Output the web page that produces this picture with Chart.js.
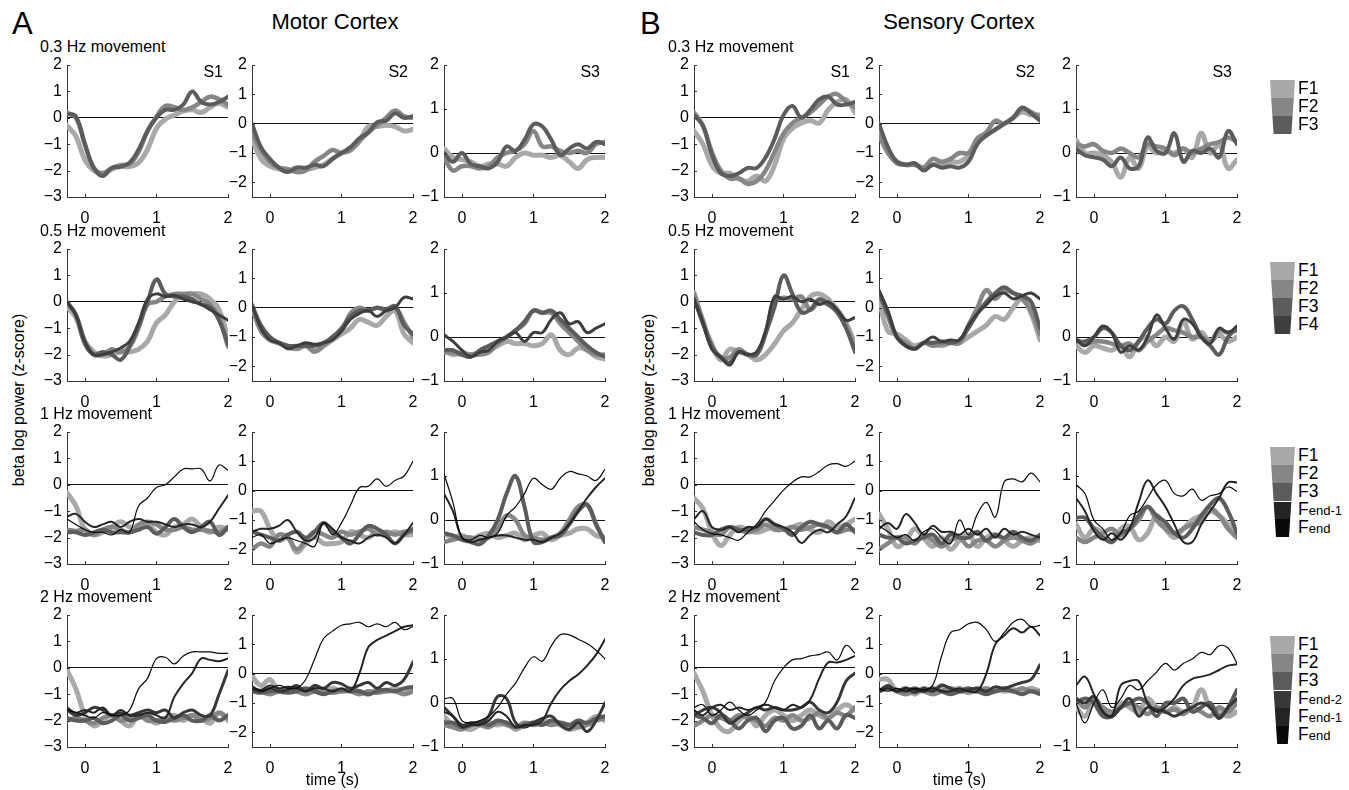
<!DOCTYPE html>
<html>
<head>
<meta charset="utf-8">
<script src="https://cdn.jsdelivr.net/npm/chart.js@4.4.1/dist/chart.umd.min.js"></script>
<style>
  body { margin: 0; background: #fff; }
  #fig { position: relative; width: 1349px; height: 790px; overflow: hidden;
         font-family: 'Liberation Sans', Arial, sans-serif; color: #000; }
  #fig canvas { position: absolute; }
  .txt { position: absolute; white-space: nowrap; line-height: 1; }
</style>
</head>
<body>
<div id="fig"></div>
<script>
// time axis shared by every panel (s)
const timeS = [-0.25, -0.125, 0, 0.125, 0.25, 0.375, 0.5, 0.625, 0.75, 0.875, 1, 1.125, 1.25, 1.375, 1.5, 1.625, 1.75, 1.875, 2];

const panelLetters = ['A', 'B'];
const regions = ['Motor Cortex', 'Sensory Cortex'];
const movements = ['0.3 Hz movement', '0.5 Hz movement', '1 Hz movement', '2 Hz movement'];
const subjects = ['S1', 'S2', 'S3'];
const rowSeries = [
  ['F1', 'F2', 'F3'],
  ['F1', 'F2', 'F3', 'F4'],
  ['F1', 'F2', 'F3', 'Fend-1', 'Fend'],
  ['F1', 'F2', 'F3', 'Fend-2', 'Fend-1', 'Fend']
];
const yMinBySubject = [-3, -2.5, -1];
const yMax = 2;
const yTicksBySubject = [[-3, -2, -1, 0, 1, 2], [-2, -1, 0, 1, 2], [-1, 0, 1, 2]];
const xTicks = [0, 1, 2];

// ---- Motor cortex, 0.3 Hz
const motor03S1 = [
  [-0.3, -0.7, -1.6, -2.0, -2.1, -1.95, -1.85, -1.85, -1.7, -1.2, -0.4, -0.05, 0.1, 0.25, 0.3, 0.2, 0.4, 0.55, 0.4],
  [0.2, 0.0, -1.0, -1.9, -2.1, -1.9, -1.8, -1.75, -1.3, -0.5, 0.05, 0.45, 0.4, 0.3, 0.4, 0.6, 0.8, 0.7, 0.5],
  [0.15, 0.05, -1.0, -1.9, -2.2, -1.9, -1.85, -1.7, -1.2, -0.5, 0.0, 0.3, 0.3, 0.5, 1.0, 0.6, 0.5, 0.6, 0.8]
];
const motor03S2 = [
  [-0.5, -1.2, -1.45, -1.55, -1.6, -1.5, -1.55, -1.5, -1.4, -1.2, -1.0, -0.9, -0.6, -0.1, -0.1, -0.05, -0.1, -0.25, -0.2],
  [-0.3, -0.9, -1.3, -1.5, -1.55, -1.65, -1.6, -1.3, -1.1, -0.9, -1.0, -0.9, -0.6, -0.3, -0.05, 0.2, 0.45, 0.25, 0.2],
  [0.0, -0.8, -1.2, -1.5, -1.65, -1.5, -1.5, -1.4, -1.45, -1.2, -1.0, -0.8, -0.5, -0.3, 0.05, 0.1, 0.35, 0.2, 0.25]
];
const motor03S3 = [
  [0.1, -0.1, -0.15, -0.2, -0.3, -0.25, -0.25, -0.3, -0.1, 0.0, -0.05, -0.05, -0.1, -0.05, -0.2, -0.35, -0.15, -0.1, -0.1],
  [-0.1, -0.4, -0.3, -0.3, -0.35, -0.3, -0.1, 0.0, 0.05, 0.2, 0.5, 0.15, 0.15, 0.05, 0.0, 0.05, 0.0, 0.2, 0.25],
  [0.0, -0.2, 0.0, -0.25, -0.3, -0.35, -0.2, 0.15, 0.05, 0.3, 0.65, 0.6, 0.3, -0.05, 0.1, 0.2, 0.1, 0.25, 0.2]
];

// ---- Motor cortex, 0.5 Hz
const motor05S1 = [
  [-0.2, -0.6, -1.5, -1.9, -2.05, -2.0, -1.9, -1.9, -1.8, -1.5, -0.8, -0.5, 0.0, 0.25, 0.3, 0.3, 0.1, -0.3, -1.4],
  [-0.05, -0.5, -1.5, -2.0, -2.0, -1.8, -1.9, -1.7, -1.0, -0.1, 0.0, 0.2, 0.3, 0.3, 0.3, 0.1, -0.1, -0.6, -1.7],
  [0.0, -0.5, -1.6, -2.0, -1.9, -2.0, -2.2, -1.7, -0.9, 0.0, 0.85, 0.3, 0.2, 0.2, 0.1, -0.1, -0.2, -0.7, -1.6],
  [0.0, -0.5, -1.5, -2.0, -2.0, -1.9, -1.75, -1.5, -0.8, 0.1, 0.3, 0.2, 0.25, 0.1, 0.0, -0.1, -0.3, -0.5, -0.7]
];
const motor05S2 = [
  [0.0, -0.7, -1.1, -1.2, -1.35, -1.4, -1.3, -1.45, -1.3, -1.1, -0.9, -0.7, -0.4, -0.5, -0.6, -0.3, -0.1, -0.9, -1.2],
  [0.0, -0.8, -1.1, -1.2, -1.3, -1.4, -1.3, -1.5, -1.3, -1.0, -0.8, -0.2, 0.0, -0.1, 0.0, -0.1, 0.0, -0.5, -1.0],
  [0.1, -0.6, -1.0, -1.2, -1.3, -1.3, -1.3, -1.3, -1.2, -1.0, -0.7, -0.3, -0.1, -0.1, 0.0, -0.05, 0.05, -0.6, -0.9],
  [0.1, -0.7, -1.1, -1.2, -1.4, -1.3, -1.2, -1.25, -1.2, -1.1, -0.8, -0.4, -0.2, -0.1, -0.3, -0.1, 0.0, 0.35, 0.3]
];
const motor05S3 = [
  [-0.3, -0.4, -0.35, -0.4, -0.35, -0.3, -0.2, -0.1, -0.15, -0.15, -0.2, -0.15, 0.05, -0.3, -0.4, -0.25, -0.3, -0.45, -0.5],
  [-0.35, -0.35, -0.4, -0.4, -0.4, -0.35, -0.15, 0.0, 0.15, 0.3, 0.6, 0.55, 0.55, 0.3, 0.1, -0.1, -0.3, -0.4, -0.4],
  [-0.3, -0.3, -0.4, -0.45, -0.3, -0.2, -0.1, 0.0, 0.15, 0.35, 0.6, 0.55, 0.6, 0.4, 0.2, 0.0, -0.2, -0.35, -0.45],
  [0.05, -0.1, -0.3, -0.45, -0.35, -0.3, -0.1, 0.0, 0.1, -0.1, 0.1, 0.1, 0.4, 0.55, 0.3, 0.35, 0.1, 0.2, 0.3]
];

// ---- Motor cortex, 1 Hz
const motor1S1 = [
  [-0.3, -0.8, -1.7, -1.9, -1.8, -1.6, -1.4, -1.6, -1.7, -1.5, -1.8, -1.9, -1.6, -1.5, -1.3, -1.6, -1.8, -1.6, -1.7],
  [-1.7, -1.75, -1.7, -1.9, -1.7, -1.6, -1.7, -1.8, -1.5, -1.4, -1.5, -1.7, -1.7, -1.6, -1.7, -1.7, -1.75, -1.8, -1.6],
  [-1.8, -1.8, -1.9, -1.8, -1.7, -1.8, -1.8, -1.8, -1.7, -1.6, -1.85, -1.6, -1.3, -1.6, -1.8, -1.6, -1.4, -1.9, -1.6],
  [-1.2, -1.1, -1.4, -1.6, -1.5, -1.4, -1.6, -1.4, -1.3, -1.4, -1.4, -1.5, -1.6, -1.5, -1.5, -1.6, -1.4, -0.9, -0.4],
  [-1.3, -1.5, -1.7, -1.8, -1.8, -1.9, -1.7, -1.8, -0.8, -0.5, -0.1, 0.0, 0.3, 0.6, 0.6, 0.6, 0.15, 0.75, 0.55]
];
const motor1S2 = [
  [-0.7, -0.7, -1.3, -1.7, -1.6, -2.1, -1.8, -1.6, -1.8, -1.8, -1.75, -1.4, -1.5, -1.6, -1.4, -1.5, -1.4, -1.5, -1.5],
  [-2.0, -1.8, -1.9, -1.5, -1.6, -2.0, -1.7, -1.4, -1.5, -1.6, -1.4, -1.5, -1.4, -1.3, -1.5, -1.4, -1.5, -1.4, -1.4],
  [-1.4, -1.5, -1.6, -1.7, -1.5, -1.4, -1.6, -1.4, -1.1, -1.4, -1.6, -1.8, -1.5, -1.2, -1.3, -1.5, -1.8, -1.5, -1.3],
  [-1.4, -1.3, -1.3, -1.2, -1.0, -1.4, -1.7, -1.6, -1.1, -1.3, -1.6, -1.7, -1.8, -1.6, -1.5, -1.6, -1.8, -1.5, -1.1],
  [-1.6, -1.5, -1.8, -1.7, -1.6, -1.7, -1.8, -1.9, -1.1, -1.5, -1.1, -0.5, 0.1, 0.15, 0.4, 0.15, 0.35, 0.5, 1.0]
];
const motor1S3 = [
  [-0.3, -0.4, -0.35, -0.45, -0.35, -0.3, -0.4, -0.35, -0.3, -0.45, -0.35, -0.3, -0.45, -0.35, -0.3, -0.2, -0.2, -0.35, -0.4],
  [-0.5, -0.45, -0.4, -0.4, -0.45, -0.4, -0.2, 0.1, 0.0, -0.35, -0.4, -0.45, -0.4, -0.3, 0.0, 0.3, 0.35, -0.1, -0.5],
  [-0.3, -0.35, -0.45, -0.5, -0.55, -0.35, 0.0, 0.6, 1.0, 0.3, -0.5, -0.5, -0.4, -0.35, -0.1, 0.2, 0.35, -0.1, -0.5],
  [0.6, 0.2, -0.4, -0.5, -0.45, -0.4, -0.35, -0.35, -0.4, -0.45, -0.45, -0.5, -0.4, -0.3, -0.1, 0.2, 0.5, 0.75, 0.95],
  [1.05, 0.4, -0.4, -0.45, -0.35, -0.4, -0.3, 0.1, 0.3, 0.6, 0.95, 0.8, 0.7, 0.95, 1.1, 1.05, 1.0, 0.9, 1.15]
];

// ---- Motor cortex, 2 Hz
const motor2S1 = [
  [-0.1, -0.8, -1.8, -2.2, -2.0, -1.8, -2.0, -2.2, -1.8, -1.9, -2.1, -1.9, -1.8, -2.0, -1.8, -1.9, -2.1, -1.7, -2.0],
  [-2.0, -1.9, -2.0, -2.1, -1.9, -1.8, -2.0, -1.9, -1.8, -2.0, -2.0, -1.9, -2.0, -1.9, -1.8, -2.0, -1.9, -1.7, -1.9],
  [-1.9, -2.0, -2.0, -1.9, -2.1, -2.0, -1.8, -2.0, -1.9, -1.8, -2.0, -2.05, -1.9, -1.8, -2.0, -2.0, -1.8, -2.0, -1.8],
  [-1.6, -1.8, -1.7, -1.5, -1.6, -1.8, -1.7, -1.8, -1.7, -1.6, -1.7, -1.6, -1.9, -1.7, -1.6, -1.8, -1.8, -1.0, -0.1],
  [-1.5, -1.7, -1.6, -1.7, -1.5, -1.8, -1.6, -1.8, -1.8, -1.7, -1.8, -1.9, -1.1, -0.6, -0.2, 0.35, 0.3, 0.25, 0.35],
  [-1.6, -1.7, -1.8, -1.9, -1.7, -1.8, -1.8, -1.6, -0.8, -0.4, 0.35, 0.4, 0.15, 0.45, 0.6, 0.6, 0.6, 0.55, 0.55]
];
const motor2S2 = [
  [-0.1, -0.4, -0.2, -0.6, -0.6, -0.5, -0.6, -0.5, -0.6, -0.5, -0.6, -0.55, -0.6, -0.7, -0.55, -0.6, -0.5, -0.6, -0.6],
  [-0.5, -0.6, -0.7, -0.6, -0.55, -0.6, -0.7, -0.6, -0.6, -0.65, -0.6, -0.6, -0.7, -0.6, -0.65, -0.6, -0.6, -0.7, -0.6],
  [-0.6, -0.65, -0.6, -0.6, -0.65, -0.6, -0.5, -0.6, -0.7, -0.6, -0.55, -0.6, -0.6, -0.7, -0.6, -0.55, -0.6, -0.5, -0.45],
  [-0.55, -0.6, -0.5, -0.6, -0.55, -0.4, -0.6, -0.4, -0.5, -0.3, -0.35, -0.5, -0.4, -0.3, -0.5, -0.3, -0.4, -0.2, 0.4],
  [-0.5, -0.55, -0.4, -0.5, -0.45, -0.5, -0.6, -0.5, -0.5, -0.6, -0.5, -0.6, 0.0, 0.9, 1.15, 1.3, 1.45, 1.6, 1.65],
  [-0.4, -0.6, -0.5, -0.4, -0.5, -0.5, -0.2, 0.5, 1.2, 1.45, 1.65, 1.7, 1.75, 1.6, 1.7, 1.6, 1.75, 1.5, 1.6]
];
const motor2S3 = [
  [-0.3, -0.5, -0.55, -0.6, -0.5, -0.45, -0.5, -0.45, -0.6, -0.5, -0.45, -0.4, -0.45, -0.5, -0.6, -0.55, -0.45, -0.3, -0.4],
  [-0.5, -0.55, -0.6, -0.5, -0.5, -0.55, -0.45, -0.5, -0.55, -0.45, -0.5, -0.45, -0.5, -0.45, -0.5, -0.55, -0.5, -0.4, -0.35],
  [-0.45, -0.45, -0.55, -0.5, -0.45, -0.5, -0.4, -0.45, -0.55, -0.5, -0.45, -0.5, -0.4, -0.45, -0.5, -0.4, -0.45, -0.35, -0.3],
  [-0.1, -0.3, -0.5, -0.45, -0.45, -0.3, 0.15, 0.1, -0.45, -0.55, -0.45, -0.35, -0.3, -0.5, -0.6, -0.45, -0.65, -0.4, 0.0],
  [-0.2, -0.3, -0.55, -0.5, -0.5, -0.4, -0.2, -0.3, -0.55, -0.5, -0.5, -0.4, 0.0, 0.3, 0.5, 0.65, 0.85, 1.1, 1.45],
  [0.1, 0.1, -0.4, -0.45, -0.4, -0.3, -0.1, 0.2, 0.45, 0.8, 1.05, 0.95, 1.3, 1.55, 1.55, 1.45, 1.35, 1.2, 1.0]
];

// ---- Sensory cortex, 0.3 Hz
const sensory03S1 = [
  [-0.5, -1.0, -1.8, -2.1, -2.1, -2.3, -2.4, -2.2, -2.4, -1.8, -0.8, -0.4, -0.2, -0.1, -0.2, 0.3, 0.6, 0.7, 0.2],
  [0.2, -0.3, -1.3, -2.0, -2.3, -2.3, -2.5, -2.4, -2.0, -1.3, -0.6, -0.2, 0.0, 0.2, 0.5, 0.8, 0.9, 0.6, 0.4],
  [0.1, -0.3, -1.4, -2.1, -2.2, -2.1, -1.9, -1.9, -1.5, -0.8, 0.1, 0.45, 0.0, 0.3, 0.7, 0.8, 0.5, 0.5, 0.6]
];
const sensory03S2 = [
  [-0.3, -0.9, -1.3, -1.4, -1.4, -1.5, -1.4, -1.4, -1.3, -1.3, -1.1, -0.6, -0.4, -0.2, 0.0, 0.2, 0.4, 0.3, 0.3],
  [-0.4, -1.0, -1.35, -1.4, -1.4, -1.5, -1.2, -1.3, -1.2, -1.0, -1.0, -0.5, -0.3, 0.1, 0.0, 0.2, 0.5, 0.4, 0.2],
  [0.0, -0.8, -1.3, -1.4, -1.35, -1.6, -1.4, -1.5, -1.45, -1.5, -1.3, -0.7, -0.4, -0.2, 0.0, 0.2, 0.55, 0.35, 0.1]
];
const sensory03S3 = [
  [0.3, 0.0, 0.0, -0.05, -0.2, -0.55, -0.1, -0.35, 0.15, 0.0, 0.05, 0.0, 0.1, -0.1, 0.45, 0.0, 0.2, -0.35, -0.15],
  [0.2, 0.15, 0.2, 0.05, 0.0, 0.1, 0.0, -0.1, 0.2, 0.15, 0.1, -0.05, 0.1, 0.0, 0.1, 0.2, 0.25, 0.35, 0.25],
  [0.1, -0.05, -0.1, -0.15, -0.3, -0.1, -0.35, -0.3, 0.35, 0.05, 0.0, 0.45, -0.2, 0.05, 0.0, 0.1, -0.1, 0.5, 0.2]
];

// ---- Sensory cortex, 0.5 Hz
const sensory05S1 = [
  [0.35, -0.8, -1.6, -2.2, -1.8, -1.9, -2.0, -2.2, -2.0, -1.6, -1.1, -0.8, -0.3, 0.2, 0.3, 0.1, -0.3, -0.8, -1.6],
  [0.3, -0.7, -1.7, -2.1, -2.1, -1.8, -2.0, -2.0, -1.2, 0.0, 0.15, 0.1, 0.2, -0.3, 0.0, -0.1, -0.3, -0.9, -1.8],
  [0.1, -0.8, -1.7, -2.1, -2.3, -1.9, -2.0, -2.0, -1.2, -0.2, 1.0, 0.3, -0.4, -0.3, 0.1, -0.1, -0.4, -1.0, -1.9],
  [0.1, -0.8, -1.8, -2.1, -2.4, -1.9, -2.0, -1.9, -1.1, 0.2, 0.1, 0.2, 0.0, 0.1, -0.1, 0.0, -0.3, -0.7, -0.6]
];
const sensory05S2 = [
  [0.3, -0.8, -0.9, -1.1, -1.3, -1.2, -1.2, -1.3, -1.2, -1.2, -1.0, -0.8, -0.6, -0.3, -0.4, 0.0, 0.3, -0.2, -1.1],
  [0.5, -0.3, -1.0, -1.2, -1.4, -1.2, -1.3, -1.25, -1.2, -1.2, -0.6, 0.0, 0.6, 0.3, 0.6, 0.5, 0.3, -0.1, -0.9],
  [0.5, -0.2, -1.0, -1.3, -1.4, -1.2, -1.2, -1.15, -1.2, -1.1, -0.7, -0.2, 0.2, 0.5, 0.7, 0.5, 0.4, 0.2, -0.7],
  [0.6, -0.1, -1.0, -1.3, -1.4, -1.2, -1.0, -1.15, -1.1, -1.1, -0.6, -0.2, 0.1, 0.4, 0.5, 0.3, 0.4, 0.5, 0.3]
];
const sensory05S3 = [
  [-0.2, -0.35, -0.2, -0.25, -0.3, -0.2, -0.45, -0.1, 0.0, -0.2, 0.0, -0.1, 0.35, -0.05, 0.1, -0.1, 0.05, -0.1, 0.0],
  [-0.05, -0.15, -0.1, -0.1, -0.15, -0.2, -0.15, -0.3, -0.1, 0.05, 0.2, 0.15, 0.1, 0.0, 0.0, -0.1, 0.15, 0.1, 0.15],
  [-0.1, -0.1, 0.0, 0.2, 0.1, -0.2, -0.3, -0.1, 0.2, 0.4, 0.3, 0.6, 0.7, 0.4, 0.0, -0.2, -0.4, 0.0, 0.2],
  [-0.05, -0.2, 0.0, 0.25, 0.1, -0.35, -0.2, -0.3, 0.0, 0.5, 0.2, -0.05, 0.4, 0.3, 0.0, -0.15, 0.2, 0.1, 0.25]
];

// ---- Sensory cortex, 1 Hz
const sensory1S1 = [
  [-0.5, -0.9, -1.8, -2.3, -1.9, -1.6, -1.7, -1.8, -1.7, -1.6, -1.7, -1.6, -1.5, -1.7, -1.8, -1.4, -1.6, -1.5, -1.3],
  [-1.6, -1.7, -1.8, -1.9, -1.6, -1.7, -1.8, -1.7, -1.5, -1.7, -1.7, -1.6, -1.7, -1.6, -1.5, -1.6, -1.8, -1.7, -1.7],
  [-1.8, -1.9, -1.9, -1.7, -1.6, -1.7, -1.7, -1.6, -1.3, -1.5, -1.65, -1.9, -1.6, -1.4, -1.5, -1.6, -1.8, -1.5, -1.8],
  [-1.3, -1.0, -1.6, -1.7, -1.6, -1.8, -1.6, -1.6, -1.3, -1.5, -1.6, -1.8, -2.2, -1.9, -1.7, -1.8, -1.5, -1.2, -0.5],
  [-1.4, -1.7, -1.85, -1.9, -2.0, -2.1, -1.8, -1.5, -1.0, -0.6, -0.2, 0.1, 0.3, 0.3, 0.5, 0.75, 0.8, 0.7, 0.9]
];
const sensory1S2 = [
  [-0.8, -1.3, -1.9, -1.7, -1.3, -1.6, -1.9, -1.6, -2.0, -1.7, -1.5, -1.9, -1.6, -1.5, -1.7, -1.9, -1.7, -1.6, -1.7],
  [-2.0, -1.8, -1.6, -1.6, -1.8, -1.5, -1.7, -1.9, -1.7, -1.6, -1.9, -1.7, -1.7, -1.9, -1.7, -1.6, -1.7, -1.8, -1.6],
  [-1.5, -1.6, -1.6, -1.8, -1.7, -1.6, -1.5, -1.8, -1.5, -1.6, -1.6, -1.4, -1.7, -1.5, -1.6, -1.4, -1.6, -1.7, -1.5],
  [-1.3, -1.1, -1.3, -0.8, -1.1, -1.5, -1.2, -1.4, -1.4, -1.5, -1.3, -1.5, -1.3, -1.6, -1.3, -1.5, -1.4, -1.5, -1.6],
  [-1.2, -1.4, -1.6, -1.5, -1.7, -1.4, -1.3, -1.6, -1.8, -1.0, -1.5, -0.8, -0.4, -0.9, 0.3, 0.4, 0.3, 0.6, 0.3]
];
const sensory1S3 = [
  [-0.1, -0.4, -0.2, -0.3, -0.5, -0.2, -0.15, -0.45, -0.3, 0.1, -0.2, -0.4, -0.2, 0.0, 0.1, 0.2, 0.1, -0.1, -0.3],
  [-0.4, -0.5, -0.4, -0.3, -0.2, -0.35, -0.2, 0.0, 0.3, 0.0, -0.2, -0.3, -0.2, -0.1, -0.05, 0.25, 0.1, -0.2, -0.4],
  [0.05, 0.05, -0.2, -0.4, -0.5, -0.3, -0.2, 0.1, 0.3, 0.1, -0.05, -0.3, -0.4, -0.2, 0.1, 0.35, 0.5, 0.2, -0.3],
  [0.5, 0.2, -0.25, -0.45, -0.3, -0.45, -0.2, 0.4, 0.9, 0.6, 0.3, -0.1, -0.5, -0.5, -0.1, 0.2, 0.5, 0.85, 0.85],
  [0.8, 0.6, 0.0, -0.2, -0.45, -0.3, 0.1, 0.2, 0.5, 0.8, 0.9, 0.6, 0.55, 0.7, 0.45, 0.55, 0.6, 0.75, 0.65]
];

// ---- Sensory cortex, 2 Hz
const sensory2S1 = [
  [-0.2, -0.9, -1.8, -2.3, -2.4, -2.0, -1.8, -2.2, -1.8, -1.6, -1.8, -2.0, -1.8, -1.6, -1.8, -1.9, -1.6, -1.4, -1.6],
  [-2.2, -2.0, -1.8, -1.9, -2.0, -1.8, -1.9, -2.0, -2.2, -1.9, -2.0, -1.8, -2.0, -1.9, -1.7, -1.9, -1.7, -1.8, -1.5],
  [-1.8, -1.9, -2.1, -1.8, -2.0, -2.3, -2.0, -1.9, -2.4, -2.0, -1.9, -2.3, -2.2, -1.8, -2.3, -2.0, -2.3, -1.8, -1.9],
  [-1.8, -1.6, -1.5, -1.7, -2.1, -1.9, -1.7, -1.5, -1.6, -1.5, -1.6, -1.6, -1.5, -1.3, -1.6, -1.7, -1.3, -0.5, -0.2],
  [-1.6, -1.8, -1.5, -1.4, -1.6, -1.5, -1.6, -1.5, -1.4, -1.5, -1.6, -1.4, -1.5, -1.2, -0.4, 0.2, 0.2, 0.3, 0.45],
  [-1.5, -1.4, -1.8, -1.6, -1.3, -1.6, -1.8, -1.6, -1.3, -0.5, 0.0, 0.3, 0.35, 0.45, 0.5, 0.6, 0.3, 0.85, 0.55]
];
const sensory2S2 = [
  [-0.2, -0.2, -0.6, -0.5, -0.7, -0.5, -0.6, -0.4, -0.6, -0.5, -0.65, -0.5, -0.6, -0.5, -0.6, -0.55, -0.6, -0.5, -0.6],
  [-0.6, -0.5, -0.6, -0.7, -0.6, -0.6, -0.7, -0.6, -0.5, -0.6, -0.6, -0.6, -0.5, -0.6, -0.5, -0.6, -0.5, -0.6, -0.6],
  [-0.6, -0.5, -0.55, -0.6, -0.5, -0.6, -0.5, -0.6, -0.7, -0.6, -0.5, -0.6, -0.7, -0.6, -0.55, -0.6, -0.7, -0.6, -0.7],
  [-0.6, -0.4, -0.6, -0.5, -0.65, -0.5, -0.6, -0.4, -0.5, -0.6, -0.55, -0.5, -0.6, -0.45, -0.5, -0.4, -0.3, -0.2, 0.3],
  [-0.6, -0.5, -0.6, -0.5, -0.55, -0.6, -0.5, -0.6, -0.6, -0.5, -0.6, -0.6, 0.0, 1.0, 1.3, 1.55, 1.4, 1.6, 1.3],
  [-0.5, -0.6, -0.5, -0.6, -0.5, -0.55, -0.4, 0.6, 1.4, 1.5, 1.7, 1.75, 1.5, 1.1, 1.4, 1.75, 1.85, 1.6, 1.65]
];
const sensory2S3 = [
  [-0.1, -0.3, 0.0, -0.2, -0.3, 0.0, -0.1, -0.2, 0.1, -0.1, -0.2, -0.1, -0.2, -0.1, 0.3, -0.1, -0.2, -0.3, -0.2],
  [0.1, -0.1, 0.1, -0.1, -0.2, -0.1, 0.0, -0.1, -0.25, -0.1, -0.2, -0.15, -0.25, -0.1, -0.2, -0.3, -0.1, -0.2, 0.0],
  [0.0, 0.1, 0.0, -0.3, -0.3, -0.1, 0.0, 0.1, 0.0, -0.3, 0.0, 0.0, 0.1, -0.2, -0.1, 0.0, -0.3, -0.1, 0.3],
  [0.1, 0.0, 0.15, -0.2, -0.3, -0.1, 0.1, -0.3, -0.1, -0.15, -0.2, -0.3, -0.2, -0.1, 0.0, -0.1, -0.35, -0.1, 0.1],
  [0.4, 0.6, 0.2, -0.2, -0.3, 0.4, 0.5, 0.5, 0.0, -0.2, -0.1, 0.1, 0.4, 0.55, 0.6, 0.65, 0.75, 0.85, 0.88],
  [0.0, -0.45, 0.0, 0.3, -0.1, 0.1, 0.4, 0.3, 0.5, 0.7, 0.9, 0.75, 0.9, 1.0, 1.15, 1.1, 1.3, 1.25, 0.9]
];

const panelData = [
  [[motor03S1, motor03S2, motor03S3], [motor05S1, motor05S2, motor05S3],
   [motor1S1, motor1S2, motor1S3], [motor2S1, motor2S2, motor2S3]],
  [[sensory03S1, sensory03S2, sensory03S3], [sensory05S1, sensory05S2, sensory05S3],
   [sensory1S1, sensory1S2, sensory1S3], [sensory2S1, sensory2S2, sensory2S3]]
];

// line look per frequency label
const lineStyle = {
  'F1':     { color: '#a9a9a9', width: 5 },
  'F2':     { color: '#868686', width: 4.5 },
  'F3':     { color: '#5c5c5c', width: 4 },
  'F4':     { color: '#3e3e3e', width: 3 },
  'Fend-2': { color: '#383838', width: 3 },
  'Fend-1': { color: '#242424', width: 2 },
  'Fend':   { color: '#0a0a0a', width: 1.2 }
};

// layout in page pixels
const plotLeft = [[67, 252, 444], [694, 879, 1076]];
const plotTop = [65, 249, 432, 615];
const plotW = 161, plotH = 132;
const axisW = 32, axisH = 28, padT = 18, padR = 14;
const legendX = 1270, legendTop = [80, 262, 447, 636], legendItemH = 18;
const FONT = "'Liberation Sans', Arial, sans-serif";
const TXT = 16;

const fig = document.getElementById('fig');

function addText(html, x, y, size, align, rotate) {
  const d = document.createElement('div');
  d.className = 'txt';
  d.innerHTML = html;
  d.style.left = x + 'px';
  d.style.top = y + 'px';
  d.style.fontSize = size + 'px';
  const tx = align === 'center' ? '-50%' : align === 'right' ? '-100%' : '0';
  d.style.transform = `translate(${tx}, -50%)` + (rotate ? ` rotate(${rotate}deg)` : '');
  fig.appendChild(d);
}

function minusFmt(v) {
  return v < 0 ? '\u2212' + (-v) : String(v);
}

// small ticks drawn inward, matlab style
const innerTicks = {
  id: 'innerTicks',
  afterDraw(chart) {
    const { ctx, chartArea: a, scales: { x, y } } = chart;
    ctx.save();
    ctx.strokeStyle = '#333';
    ctx.lineWidth = 1;
    ctx.beginPath();
    x.ticks.forEach(t => {
      const px = Math.round(x.getPixelForValue(t.value)) + 0.5;
      ctx.moveTo(px, a.bottom); ctx.lineTo(px, a.bottom - 3);
    });
    y.ticks.forEach(t => {
      const py = Math.round(y.getPixelForValue(t.value)) + 0.5;
      ctx.moveTo(a.left, py); ctx.lineTo(a.left + 3, py);
    });
    ctx.stroke();
    ctx.restore();
  }
};

function makePanel(region, row, col) {
  const series = panelData[region][row][col];
  const labels = rowSeries[row];
  const W = axisW + plotW + padR, H = padT + plotH + axisH;
  const canvas = document.createElement('canvas');
  canvas.width = W; canvas.height = H;
  canvas.style.width = W + 'px'; canvas.style.height = H + 'px';
  canvas.style.left = (plotLeft[region][col] - axisW) + 'px';
  canvas.style.top = (plotTop[row] - padT) + 'px';
  fig.appendChild(canvas);

  const tickFont = { family: FONT, size: TXT };
  new Chart(canvas, {
    type: 'line',
    data: {
      datasets: labels.map((lab, i) => ({
        label: lab,
        data: timeS.map((t, k) => ({ x: t, y: series[i][k] })),
        borderColor: lineStyle[lab].color,
        borderWidth: lineStyle[lab].width,
        borderCapStyle: 'round',
        borderJoinStyle: 'round',
        pointRadius: 0,
        tension: 0.4,
        fill: false,
        order: labels.length - i   // F1 at the back, Fend on top
      }))
    },
    options: {
      responsive: false,
      animation: false,
      devicePixelRatio: 1,
      layout: { padding: { left: 0, top: padT, right: padR, bottom: 0 } },
      plugins: { legend: { display: false }, tooltip: { enabled: false } },
      scales: {
        x: {
          type: 'linear', min: -0.25, max: 2,
          afterBuildTicks: s => { s.ticks = xTicks.map(v => ({ value: v })); },
          afterFit: s => { s.height = axisH; },
          grid: { display: false },
          border: { color: '#333', width: 1 },
          ticks: { font: tickFont, color: '#000', padding: 4, maxRotation: 0, autoSkip: false }
        },
        y: {
          min: yMinBySubject[col], max: yMax,
          afterBuildTicks: s => { s.ticks = yTicksBySubject[col].map(v => ({ value: v })); },
          afterFit: s => { s.width = axisW; },
          grid: {
            drawTicks: false, lineWidth: 1,
            color: c => (c.tick && c.tick.value === 0 ? '#111' : 'rgba(0,0,0,0)')
          },
          border: { color: '#333', width: 1 },
          ticks: { font: tickFont, color: '#000', padding: 5, callback: minusFmt }
        }
      }
    },
    plugins: [innerTicks]
  });

  if (row === 0) {
    addText(subjects[col], plotLeft[region][col] + plotW - 5, plotTop[row] + 7, TXT, 'right');
  }
}

function addLegend(row) {
  const labels = rowSeries[row];
  const n = labels.length;
  const inset = (n * 1.2).toFixed(1);
  const box = document.createElement('div');
  box.style.cssText = `position:absolute;left:${legendX}px;top:${legendTop[row]}px;width:25px;height:${n * legendItemH}px;` +
    `clip-path:polygon(0 0,100% 0,calc(100% - ${inset}px) 100%,${inset}px 100%);`;
  labels.forEach((lab, i) => {
    const d = document.createElement('div');
    d.style.height = legendItemH + 'px';
    d.style.boxSizing = 'border-box';
    d.style.background = lineStyle[lab].color;
    if (lab.startsWith('Fend') && !labels[i - 1].startsWith('Fend')) d.style.borderTop = '1px solid #fff';
    box.appendChild(d);
    const rest = lab.slice(1);
    const html = 'F' + (rest.startsWith('end') ? `<span style="font-size:13px">${rest}</span>` : rest);
    addText(html, legendX + 28, legendTop[row] + i * legendItemH + legendItemH / 2, 17.5, 'left');
  });
  fig.appendChild(box);
}

// headings
addText(panelLetters[0], 12, 23, 31, 'left');
addText(panelLetters[1], 640, 23, 31, 'left');
addText(regions[0], 335, 22, 22, 'center');
addText(regions[1], 959, 22, 22, 'center');

for (let region = 0; region < 2; region++) {
  const titleX = region === 0 ? 40 : 668;
  for (let row = 0; row < 4; row++) {
    addText(movements[row], titleX, plotTop[row] - 18, TXT, 'left');
    for (let col = 0; col < 3; col++) makePanel(region, row, col);
  }
  addText('beta log power (z-score)', region === 0 ? 19 : 649, 400, TXT, 'center', -90);
  addText('time (s)', (plotLeft[region][1] + plotW / 2), 780, TXT, 'center');
}
for (let row = 0; row < 4; row++) addLegend(row);
</script>
</body>
</html>
